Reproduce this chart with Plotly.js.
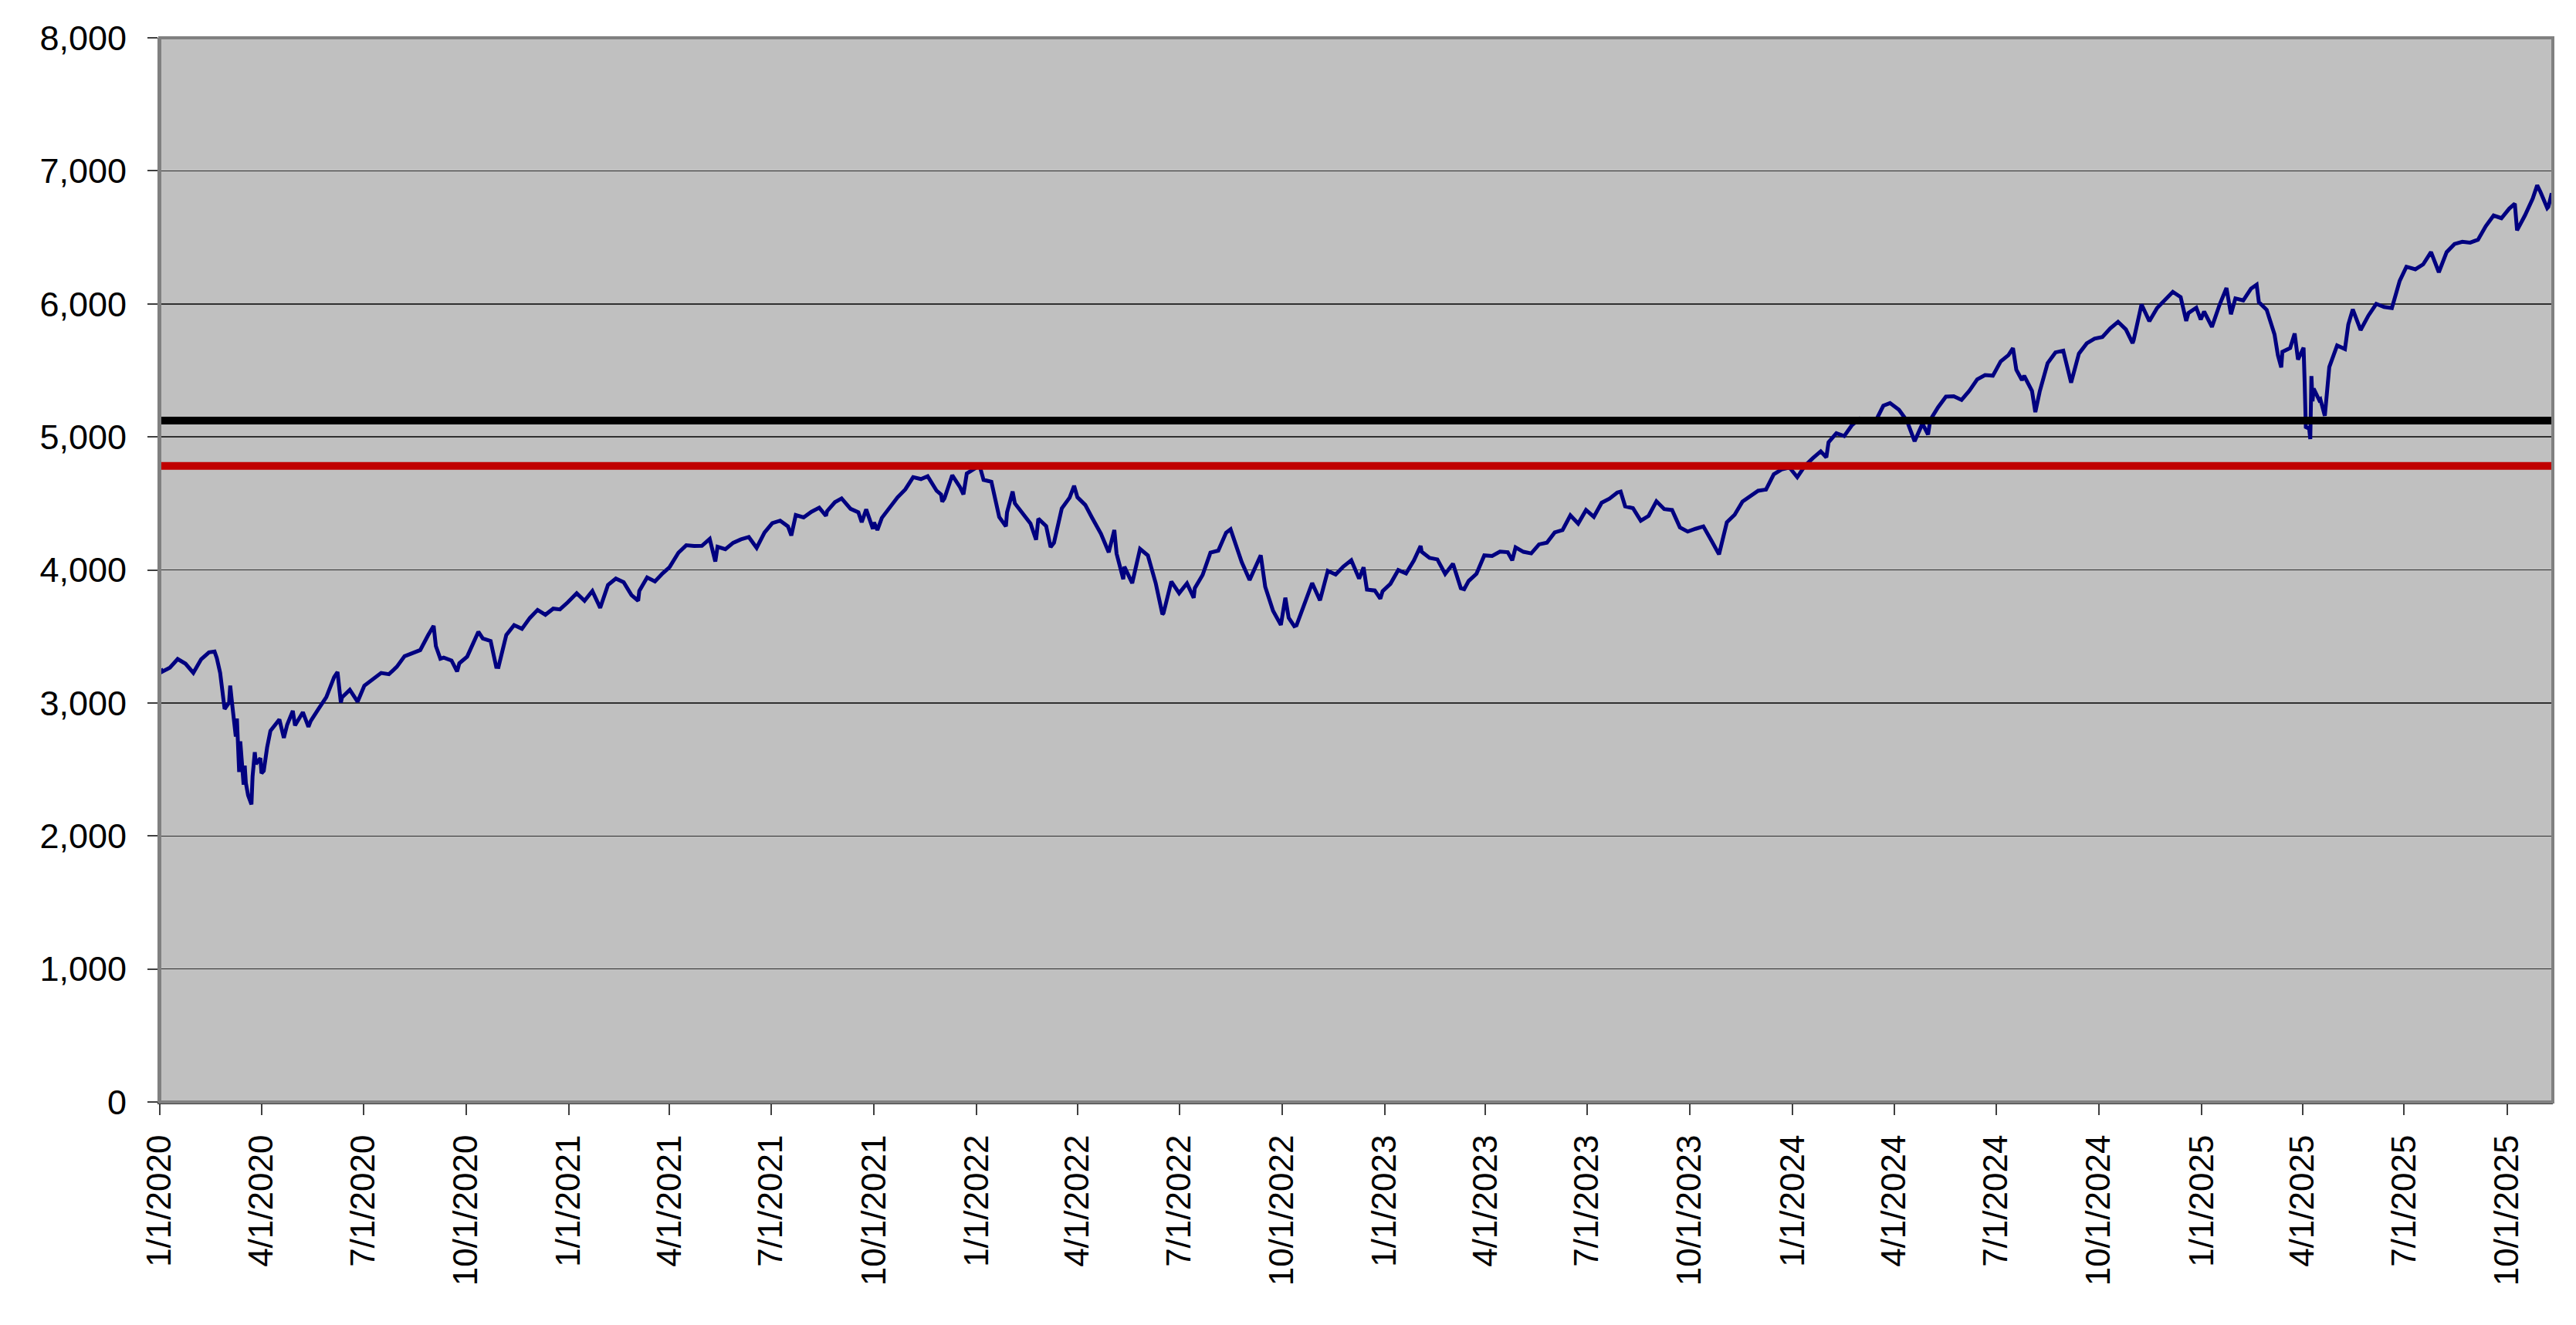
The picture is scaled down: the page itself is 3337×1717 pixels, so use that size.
<!DOCTYPE html>
<html>
<head>
<meta charset="utf-8">
<script src="https://cdn.plot.ly/plotly-3.0.1.min.js"></script>
<style>
  html, body { margin: 0; padding: 0; background: #ffffff; }
  #chart { width: 3337px; height: 1717px; }
</style>
</head>
<body>
<div id="chart"></div>
<script>
// S&P 500 closes (date, close)
const spx_2020 = [
    ["2020-01-02", 3258], ["2020-01-03", 3235], ["2020-01-10", 3265], ["2020-01-17", 3330],
    ["2020-01-24", 3295], ["2020-01-31", 3226], ["2020-02-07", 3328], ["2020-02-14", 3380],
    ["2020-02-19", 3386], ["2020-02-21", 3338], ["2020-02-24", 3226], ["2020-02-27", 2979],
    ["2020-02-28", 2954], ["2020-03-03", 3003], ["2020-03-04", 3130], ["2020-03-06", 2972],
    ["2020-03-09", 2747], ["2020-03-10", 2882], ["2020-03-12", 2481], ["2020-03-13", 2711],
    ["2020-03-16", 2386], ["2020-03-17", 2529], ["2020-03-18", 2398], ["2020-03-20", 2305],
    ["2020-03-23", 2237], ["2020-03-24", 2447], ["2020-03-26", 2630], ["2020-03-27", 2541],
    ["2020-03-31", 2585], ["2020-04-01", 2471], ["2020-04-03", 2489], ["2020-04-06", 2664],
    ["2020-04-09", 2790], ["2020-04-17", 2875], ["2020-04-21", 2737], ["2020-04-24", 2837],
    ["2020-04-29", 2940], ["2020-05-01", 2831], ["2020-05-08", 2930], ["2020-05-13", 2820],
    ["2020-05-15", 2864], ["2020-05-22", 2955], ["2020-05-29", 3044], ["2020-06-05", 3194],
    ["2020-06-08", 3232], ["2020-06-11", 3002], ["2020-06-12", 3041], ["2020-06-19", 3098],
    ["2020-06-26", 3009], ["2020-07-02", 3130], ["2020-07-10", 3185], ["2020-07-17", 3225],
    ["2020-07-24", 3216], ["2020-07-31", 3271], ["2020-08-07", 3351], ["2020-08-14", 3373],
    ["2020-08-21", 3397], ["2020-08-28", 3508], ["2020-09-02", 3580], ["2020-09-04", 3427],
    ["2020-09-08", 3332], ["2020-09-11", 3341], ["2020-09-18", 3319], ["2020-09-23", 3237],
    ["2020-09-25", 3298], ["2020-10-02", 3348], ["2020-10-09", 3477], ["2020-10-12", 3535],
    ["2020-10-16", 3484], ["2020-10-23", 3465], ["2020-10-28", 3271], ["2020-10-30", 3270],
    ["2020-11-06", 3510], ["2020-11-13", 3585], ["2020-11-20", 3557], ["2020-11-27", 3638],
    ["2020-12-04", 3699], ["2020-12-11", 3663], ["2020-12-18", 3709], ["2020-12-24", 3703],
    ["2020-12-31", 3756]
]

const spx_2021 = [
    ["2021-01-08", 3825], ["2021-01-15", 3768], ["2021-01-22", 3841], ["2021-01-27", 3751],
    ["2021-01-29", 3714], ["2021-02-05", 3887], ["2021-02-12", 3935], ["2021-02-19", 3907],
    ["2021-02-26", 3811], ["2021-03-04", 3768], ["2021-03-05", 3842], ["2021-03-12", 3943],
    ["2021-03-19", 3913], ["2021-03-26", 3975], ["2021-04-01", 4020], ["2021-04-09", 4129],
    ["2021-04-16", 4185], ["2021-04-23", 4180], ["2021-04-30", 4181], ["2021-05-07", 4233],
    ["2021-05-12", 4063], ["2021-05-14", 4174], ["2021-05-21", 4156], ["2021-05-28", 4204],
    ["2021-06-04", 4230], ["2021-06-11", 4247], ["2021-06-18", 4166], ["2021-06-25", 4281],
    ["2021-07-02", 4352], ["2021-07-09", 4370], ["2021-07-16", 4327], ["2021-07-19", 4259],
    ["2021-07-23", 4412], ["2021-07-30", 4395], ["2021-08-06", 4437], ["2021-08-13", 4468],
    ["2021-08-19", 4406], ["2021-08-20", 4442], ["2021-08-27", 4509], ["2021-09-02", 4537],
    ["2021-09-10", 4459], ["2021-09-17", 4433], ["2021-09-20", 4358], ["2021-09-24", 4455],
    ["2021-09-30", 4308], ["2021-10-01", 4357], ["2021-10-04", 4300], ["2021-10-08", 4391],
    ["2021-10-15", 4471], ["2021-10-22", 4545], ["2021-10-29", 4605], ["2021-11-05", 4697],
    ["2021-11-12", 4683], ["2021-11-18", 4704], ["2021-11-26", 4595], ["2021-11-30", 4567],
    ["2021-12-01", 4513], ["2021-12-03", 4538], ["2021-12-10", 4712], ["2021-12-17", 4621],
    ["2021-12-20", 4568], ["2021-12-23", 4725], ["2021-12-31", 4766]
]

const spx_2022 = [
    ["2022-01-03", 4797], ["2022-01-07", 4677], ["2022-01-14", 4663], ["2022-01-21", 4398],
    ["2022-01-27", 4327], ["2022-01-28", 4432], ["2022-02-02", 4589], ["2022-02-04", 4500],
    ["2022-02-11", 4419], ["2022-02-18", 4349], ["2022-02-23", 4226], ["2022-02-25", 4385],
    ["2022-03-04", 4329], ["2022-03-08", 4171], ["2022-03-11", 4204], ["2022-03-18", 4463],
    ["2022-03-25", 4543], ["2022-03-29", 4632], ["2022-04-01", 4546], ["2022-04-08", 4488],
    ["2022-04-14", 4393], ["2022-04-22", 4272], ["2022-04-29", 4132], ["2022-05-04", 4300],
    ["2022-05-06", 4123], ["2022-05-12", 3930], ["2022-05-13", 4024], ["2022-05-20", 3901],
    ["2022-05-27", 4158], ["2022-06-03", 4109], ["2022-06-10", 3901], ["2022-06-16", 3667],
    ["2022-06-17", 3675], ["2022-06-24", 3912], ["2022-07-01", 3825], ["2022-07-08", 3899],
    ["2022-07-14", 3790], ["2022-07-15", 3863], ["2022-07-22", 3962], ["2022-07-29", 4130],
    ["2022-08-05", 4145], ["2022-08-12", 4280], ["2022-08-16", 4305], ["2022-08-19", 4228],
    ["2022-08-26", 4058], ["2022-09-02", 3924], ["2022-09-09", 4067], ["2022-09-12", 4110],
    ["2022-09-16", 3873], ["2022-09-23", 3693], ["2022-09-30", 3586], ["2022-10-04", 3791],
    ["2022-10-07", 3640], ["2022-10-12", 3577], ["2022-10-14", 3583], ["2022-10-21", 3753],
    ["2022-10-28", 3901], ["2022-11-04", 3771], ["2022-11-11", 3993], ["2022-11-18", 3965],
    ["2022-11-25", 4026], ["2022-12-02", 4072], ["2022-12-09", 3934], ["2022-12-13", 4020],
    ["2022-12-16", 3852], ["2022-12-23", 3845], ["2022-12-28", 3783], ["2022-12-30", 3840]
]

const spx_2023 = [
    ["2023-01-06", 3895], ["2023-01-13", 3999], ["2023-01-20", 3973], ["2023-01-27", 4071],
    ["2023-02-02", 4180], ["2023-02-03", 4136], ["2023-02-10", 4090], ["2023-02-17", 4079],
    ["2023-02-24", 3970], ["2023-03-03", 4046], ["2023-03-10", 3862], ["2023-03-13", 3855],
    ["2023-03-17", 3917], ["2023-03-24", 3971], ["2023-03-31", 4109], ["2023-04-07", 4105],
    ["2023-04-14", 4138], ["2023-04-21", 4133], ["2023-04-25", 4072], ["2023-04-28", 4169],
    ["2023-05-05", 4136], ["2023-05-12", 4124], ["2023-05-19", 4192], ["2023-05-26", 4205],
    ["2023-06-02", 4282], ["2023-06-09", 4299], ["2023-06-16", 4410], ["2023-06-23", 4348],
    ["2023-06-30", 4450], ["2023-07-07", 4399], ["2023-07-14", 4505], ["2023-07-21", 4536],
    ["2023-07-28", 4582], ["2023-07-31", 4589], ["2023-08-04", 4478], ["2023-08-11", 4464],
    ["2023-08-18", 4370], ["2023-08-25", 4406], ["2023-09-01", 4516], ["2023-09-08", 4457],
    ["2023-09-15", 4450], ["2023-09-22", 4320], ["2023-09-29", 4288], ["2023-10-06", 4309],
    ["2023-10-13", 4327], ["2023-10-20", 4224], ["2023-10-27", 4117], ["2023-11-03", 4358],
    ["2023-11-10", 4415], ["2023-11-17", 4514], ["2023-11-24", 4559], ["2023-12-01", 4595],
    ["2023-12-08", 4604], ["2023-12-15", 4719], ["2023-12-22", 4755], ["2023-12-29", 4770]
]

const spx_2024 = [
    ["2024-01-05", 4697], ["2024-01-12", 4784], ["2024-01-19", 4840], ["2024-01-26", 4891],
    ["2024-01-31", 4846], ["2024-02-02", 4959], ["2024-02-09", 5027], ["2024-02-16", 5006],
    ["2024-02-23", 5089], ["2024-03-01", 5137], ["2024-03-08", 5124], ["2024-03-15", 5117],
    ["2024-03-22", 5234], ["2024-03-28", 5254], ["2024-04-05", 5204], ["2024-04-12", 5123],
    ["2024-04-19", 4967], ["2024-04-26", 5100], ["2024-05-01", 5018], ["2024-05-03", 5128],
    ["2024-05-10", 5223], ["2024-05-17", 5303], ["2024-05-24", 5305], ["2024-05-31", 5278],
    ["2024-06-07", 5347], ["2024-06-14", 5432], ["2024-06-21", 5465], ["2024-06-28", 5460],
    ["2024-07-05", 5567], ["2024-07-12", 5615], ["2024-07-16", 5667], ["2024-07-19", 5505],
    ["2024-07-24", 5427], ["2024-07-26", 5459], ["2024-08-02", 5346], ["2024-08-05", 5186],
    ["2024-08-09", 5344], ["2024-08-16", 5554], ["2024-08-23", 5635], ["2024-08-30", 5648],
    ["2024-09-06", 5408], ["2024-09-13", 5626], ["2024-09-20", 5703], ["2024-09-27", 5738],
    ["2024-10-04", 5751], ["2024-10-11", 5815], ["2024-10-18", 5865], ["2024-10-25", 5808],
    ["2024-10-31", 5705], ["2024-11-01", 5729], ["2024-11-08", 5996], ["2024-11-15", 5870],
    ["2024-11-22", 5969], ["2024-11-29", 6032], ["2024-12-06", 6090], ["2024-12-13", 6051],
    ["2024-12-18", 5872], ["2024-12-20", 5931], ["2024-12-27", 5971], ["2024-12-31", 5882]
]

const spx_2025 = [
    ["2025-01-03", 5942], ["2025-01-10", 5827], ["2025-01-17", 5997], ["2025-01-23", 6119],
    ["2025-01-27", 5922], ["2025-01-31", 6041], ["2025-02-07", 6026], ["2025-02-14", 6115],
    ["2025-02-19", 6144], ["2025-02-21", 6013], ["2025-02-28", 5955], ["2025-03-07", 5770],
    ["2025-03-10", 5615], ["2025-03-13", 5522], ["2025-03-14", 5639], ["2025-03-21", 5668],
    ["2025-03-25", 5777], ["2025-03-28", 5581], ["2025-04-02", 5671], ["2025-04-03", 5397],
    ["2025-04-04", 5074], ["2025-04-07", 5062], ["2025-04-08", 4983], ["2025-04-09", 5457],
    ["2025-04-10", 5268], ["2025-04-11", 5363], ["2025-04-16", 5276], ["2025-04-17", 5283],
    ["2025-04-21", 5158], ["2025-04-25", 5525], ["2025-05-02", 5687], ["2025-05-09", 5660],
    ["2025-05-12", 5844], ["2025-05-16", 5958], ["2025-05-23", 5803], ["2025-05-30", 5912],
    ["2025-06-06", 6000], ["2025-06-13", 5977], ["2025-06-20", 5968], ["2025-06-27", 6173],
    ["2025-07-03", 6279], ["2025-07-11", 6260], ["2025-07-18", 6297], ["2025-07-25", 6389],
    ["2025-08-01", 6238], ["2025-08-08", 6389], ["2025-08-15", 6450], ["2025-08-22", 6467],
    ["2025-08-29", 6460], ["2025-09-05", 6482], ["2025-09-12", 6584], ["2025-09-19", 6664],
    ["2025-09-26", 6644], ["2025-10-03", 6716], ["2025-10-08", 6753], ["2025-10-10", 6553],
    ["2025-10-17", 6664], ["2025-10-24", 6792], ["2025-10-28", 6891], ["2025-10-31", 6840],
    ["2025-11-04", 6771], ["2025-11-06", 6720], ["2025-11-07", 6729], ["2025-11-10", 6832]
]

// horizontal reference levels
const level_black = 5122
const level_red = 4782

// quarterly date labels on the x axis
const tick_labels = [
    "1/1/2020", "4/1/2020", "7/1/2020", "10/1/2020",
    "1/1/2021", "4/1/2021", "7/1/2021", "10/1/2021",
    "1/1/2022", "4/1/2022", "7/1/2022", "10/1/2022",
    "1/1/2023", "4/1/2023", "7/1/2023", "10/1/2023",
    "1/1/2024", "4/1/2024", "7/1/2024", "10/1/2024",
    "1/1/2025", "4/1/2025", "7/1/2025", "10/1/2025"
]
const y_ticks = [0, 1000, 2000, 3000, 4000, 5000, 6000, 7000, 8000]

function label_to_iso(label)
{
    const [m, d, y] = label.split("/")
    return y + "-" + m.padStart(2, "0") + "-" + d.padStart(2, "0")
}

const all_rows = [].concat(spx_2020, spx_2021, spx_2022, spx_2023, spx_2024, spx_2025)
const x = all_rows.map(r => r[0])
const y = all_rows.map(r => r[1])

const font_family = "Liberation Sans, Arial, sans-serif"

const data = [{
    type: "scatter",
    mode: "lines",
    x: x,
    y: y,
    line: { color: "#000080", width: 5 },
    hoverinfo: "skip"
}]

const layout = {
    width: 3337,
    height: 1717,
    autosize: false,
    margin: { l: 207, r: 30, t: 49, b: 289, pad: 0 },
    paper_bgcolor: "#ffffff",
    plot_bgcolor: "#c0c0c0",
    showlegend: false,
    font: { family: font_family, size: 45, color: "#000000" },
    xaxis: {
        type: "date",
        range: ["2020-01-01", "2025-11-11"],
        tickmode: "array",
        tickvals: tick_labels.map(label_to_iso),
        ticktext: tick_labels,
        tickangle: -90,
        ticks: "outside",
        ticklen: 14,
        tickwidth: 2,
        tickcolor: "#404040",
        ticklabelstandoff: 8,
        showgrid: false,
        zeroline: false,
        showline: true,
        linecolor: "#404040",
        linewidth: 3,
        tickfont: { family: font_family, size: 44, color: "#000000" }
    },
    yaxis: {
        range: [0, 8000],
        tickmode: "array",
        tickvals: y_ticks,
        tickformat: ",d",
        ticks: "outside",
        ticklen: 13,
        tickwidth: 2,
        tickcolor: "#404040",
        ticklabelstandoff: 18,
        showgrid: true,
        gridcolor: "#303030",
        gridwidth: 1.5,
        zeroline: false,
        showline: true,
        linecolor: "#808080",
        linewidth: 3,
        tickfont: { family: font_family, size: 45, color: "#000000" }
    },
    shapes: [
        {
            type: "line", xref: "paper", x0: 0, x1: 1, yref: "y",
            y0: level_black, y1: level_black,
            line: { color: "#000000", width: 10 }
        },
        {
            type: "line", xref: "paper", x0: 0, x1: 1, yref: "y",
            y0: level_red, y1: level_red,
            line: { color: "#c00000", width: 10 }
        },
        {
            // plot frame: grey top and right edges
            type: "rect", xref: "paper", yref: "paper", x0: 0, x1: 1, y0: 0, y1: 1,
            line: { color: "#808080", width: 4 }
        }
    ]
}

Plotly.newPlot("chart", data, layout, { displayModeBar: false, staticPlot: true })
</script>
</body>
</html>
